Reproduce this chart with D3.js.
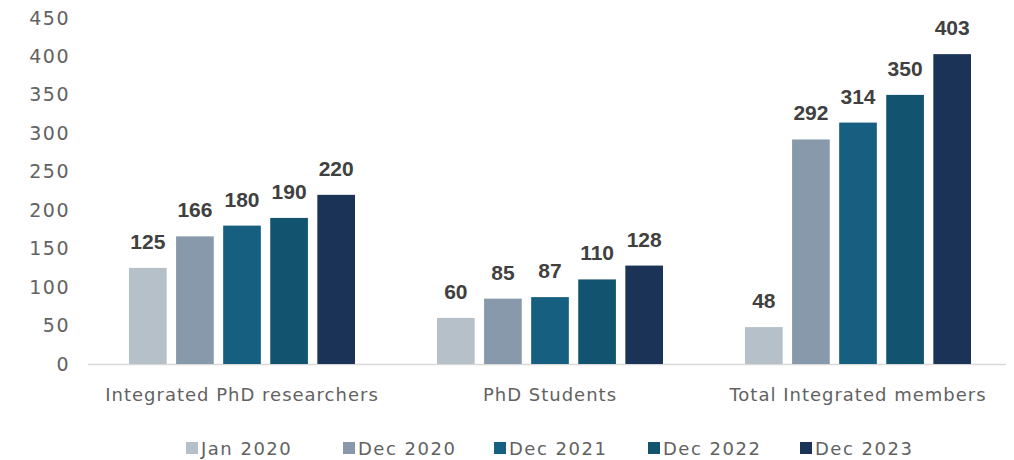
<!DOCTYPE html>
<html>
<head>
<meta charset="utf-8">
<script src="https://cdn.jsdelivr.net/npm/d3@7"></script>
<style>
    body { margin: 0; background: #fff; }
    text { font-family: 'DejaVu Sans', 'Noto Sans', sans-serif; }
</style>
</head>
<body>
<svg width="1014" height="460"></svg>
<script>
const categories = ['Integrated PhD researchers', 'PhD Students', 'Total Integrated members'];
const seriesNames = ['Jan 2020', 'Dec 2020', 'Dec 2021', 'Dec 2022', 'Dec 2023'];
const jan2020 = [125, 60, 48];
const dec2020 = [166, 85, 292];
const dec2021 = [180, 87, 314];
const dec2022 = [190, 110, 350];
const dec2023 = [220, 128, 403];
const yTicks = [0, 50, 100, 150, 200, 250, 300, 350, 400, 450];
const colors = ['#b5c0c9', '#8799aa', '#165f80', '#12546f', '#1a3356'];

const seriesValues = [jan2020, dec2020, dec2021, dec2022, dec2023];

const svg = d3.select('svg');
const plotLeft = 88, plotRight = 1012, plotTop = 18, plotBottom = 364;
const textGray = '#626262';

const x0 = d3.scaleBand().domain(categories).range([plotLeft, plotRight]).padding(0);
const x1 = d3
    .scaleBand()
    .domain(seriesNames)
    .range([41, x0.bandwidth() - 41])
    .paddingInner(0.2)
    .paddingOuter(0);
const y = d3.scaleLinear().domain([0, 450]).range([plotBottom, plotTop]);

// y axis labels (no line)
const yAxis = svg
    .append('g')
    .attr('transform', 'translate(70,0)')
    .call(d3.axisLeft(y).tickValues(yTicks).tickSize(0).tickPadding(0));
yAxis.select('.domain').remove();
yAxis
    .selectAll('text')
    .attr('fill', textGray)
    .style('font-family', "'DejaVu Sans', 'Noto Sans', sans-serif")
    .style('font-size', '19px')
    .style('letter-spacing', '1.5px');

// baseline
svg.append('line')
    .attr('x1', plotLeft)
    .attr('x2', plotRight - 6)
    .attr('y1', y(0) + 0.5)
    .attr('y2', y(0) + 0.5)
    .attr('stroke', '#d9d9d9')
    .attr('stroke-width', 1.5);

// bars
const groups = svg
    .selectAll('g.cat')
    .data(categories)
    .join('g')
    .attr('class', 'cat')
    .attr('transform', (d) => `translate(${x0(d)},0)`);

groups.each(function (cat, ci) {
    const g = d3.select(this);
    const rows = seriesNames.map((s, si) => ({ s, si, v: seriesValues[si][ci] }));
    g.selectAll('rect')
        .data(rows)
        .join('rect')
        .attr('x', (d) => x1(d.s))
        .attr('y', (d) => y(d.v))
        .attr('width', x1.bandwidth())
        .attr('height', (d) => y(0) - y(d.v))
        .attr('fill', (d) => colors[d.si]);
    g.selectAll('text.val')
        .data(rows)
        .join('text')
        .attr('class', 'val')
        .attr('x', (d) => x1(d.s) + x1.bandwidth() / 2)
        .attr('y', (d) => y(d.v) - 19)
        .attr('text-anchor', 'middle')
        .attr('fill', '#404040')
        .style('font-family', "'Liberation Sans', Arial, sans-serif")
        .style('font-weight', 'bold')
        .style('font-size', '21px')
        .text((d) => d.v);
});

// category labels
svg.selectAll('text.catlabel')
    .data(categories)
    .join('text')
    .attr('class', 'catlabel')
    .attr('x', (d) => x0(d) + x0.bandwidth() / 2)
    .attr('y', 401)
    .attr('text-anchor', 'middle')
    .attr('fill', textGray)
    .style('font-size', '18px')
    .style('letter-spacing', '1px')
    .text((d) => d);

// legend
const legendX = [186, 343, 494, 648, 800];
const legend = svg
    .selectAll('g.leg')
    .data(seriesNames)
    .join('g')
    .attr('class', 'leg')
    .attr('transform', (d, i) => `translate(${legendX[i]},442)`);
legend.append('rect')
    .attr('width', 12)
    .attr('height', 12)
    .attr('fill', (d, i) => colors[i]);
legend.append('text')
    .attr('x', 15)
    .attr('y', 13)
    .attr('fill', textGray)
    .style('font-size', '18px')
    .style('letter-spacing', '1.5px')
    .text((d) => d);
</script>
</body>
</html>
